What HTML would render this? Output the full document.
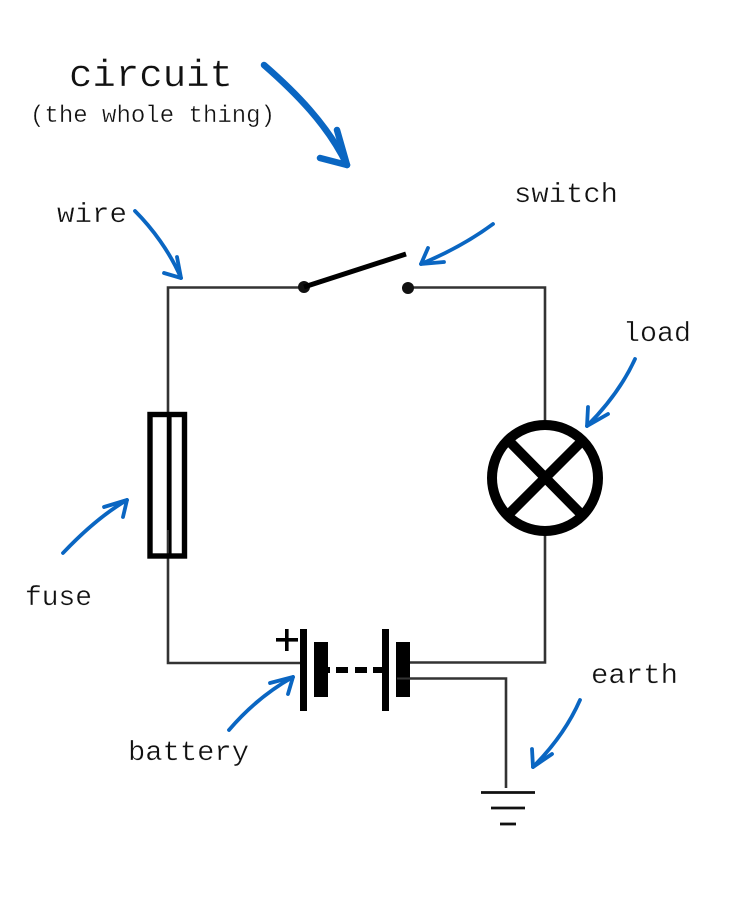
<!DOCTYPE html>
<html>
<head>
<meta charset="utf-8">
<style>
html,body{margin:0;padding:0;background:#fff}
svg{display:block}
text{font-family:"Liberation Mono",monospace;fill:#111;stroke:#fff;stroke-width:.35px}
</style>
</head>
<body>
<svg width="735" height="919" viewBox="0 0 735 919" xmlns="http://www.w3.org/2000/svg">
<rect width="735" height="919" fill="#fff"/>
<!-- wires -->
<g fill="none" stroke="#333" stroke-width="2.6">
<path d="M304 287.5H168V663H302"/>
<path d="M408 287.5H545V421"/>
<path d="M545 535V662.5H408"/>
<path d="M397 678.5H506V788"/>
</g>
<!-- switch -->
<circle cx="304" cy="287" r="6" fill="#111"/>
<circle cx="408" cy="288" r="6" fill="#111"/>
<line x1="304" y1="287" x2="406" y2="254" stroke="#000" stroke-width="5"/>
<!-- fuse -->
<rect x="150" y="414.5" width="34.5" height="141.5" fill="none" stroke="#000" stroke-width="5.4"/>
<rect x="167" y="412" width="4.6" height="118" fill="#000"/>
<rect x="169" y="530" width="2.6" height="26" fill="#000"/>
<!-- lamp -->
<circle cx="545" cy="478" r="53" fill="#fff" stroke="#000" stroke-width="10"/>
<path d="M509 441L582 515M582 441L508 515" stroke="#000" stroke-width="10" fill="none"/>
<!-- battery -->
<g fill="#000">
<rect x="300" y="629" width="7" height="82"/>
<rect x="382" y="629" width="7" height="82"/>
<rect x="314" y="642" width="14" height="55"/>
<rect x="396" y="642" width="14" height="55"/>
<rect x="328" y="667" width="2" height="6"/>
<rect x="336" y="667" width="12" height="6"/>
<rect x="355" y="667" width="12" height="6"/>
<rect x="373" y="667" width="9" height="6"/>
<rect x="276" y="638" width="22" height="3.6"/>
<rect x="285" y="629" width="3.6" height="22"/>
</g>
<path d="M397 678.5H410" stroke="#333" stroke-width="2"/>
<!-- ground -->
<g stroke="#111" stroke-width="2.8">
<line x1="481" y1="792.5" x2="535" y2="792.5"/>
<line x1="491" y1="808" x2="525" y2="808"/>
<line x1="500" y1="824" x2="516" y2="824"/>
</g>
<!-- arrows -->
<g fill="none" stroke="#0A66C2" stroke-linecap="round" stroke-linejoin="round">
<g stroke-width="6.5">
<path d="M264 65C295 92 328 125 347 165"/>
<path d="M337 130L347 165L320 158"/>
</g>
<g stroke-width="3.8">
<path d="M135 211C152 228 170 252 181 278"/>
<path d="M177 257L181 278L164 273"/>
<path d="M493 224C470 241 445 254 421 264"/>
<path d="M428 248L421 264L444 262"/>
<path d="M635 359C624 383 607 406 587 426"/>
<path d="M588 407L587 426L608 414"/>
<path d="M63 553C82 533 103 514 127 500"/>
<path d="M104 507L127 500L123 517"/>
<path d="M229 730C246 710 268 691 293 677"/>
<path d="M270 683L293 677L288 694"/>
<path d="M580 700C569 725 553 747 533 767"/>
<path d="M532 749L533 767L552 754"/>
</g>
</g>
<!-- labels -->
<text x="69" y="86" font-size="38" textLength="164" lengthAdjust="spacingAndGlyphs">circuit</text>
<text x="30" y="122" font-size="24" textLength="245" lengthAdjust="spacingAndGlyphs">(the whole thing)</text>
<text x="57" y="222" font-size="28" textLength="70" lengthAdjust="spacingAndGlyphs">wire</text>
<text x="514" y="202" font-size="28" textLength="104" lengthAdjust="spacingAndGlyphs">switch</text>
<text x="623" y="341" font-size="28" textLength="68" lengthAdjust="spacingAndGlyphs">load</text>
<text x="25" y="605" font-size="28" textLength="67" lengthAdjust="spacingAndGlyphs">fuse</text>
<text x="128" y="760" font-size="28" textLength="121" lengthAdjust="spacingAndGlyphs">battery</text>
<text x="591" y="683" font-size="28" textLength="87" lengthAdjust="spacingAndGlyphs">earth</text>
</svg>
</body>
</html>
